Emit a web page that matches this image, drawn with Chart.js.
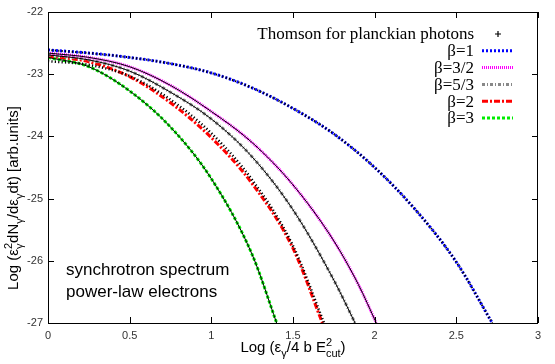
<!DOCTYPE html>
<html><head><meta charset="utf-8">
<script src="https://cdn.jsdelivr.net/npm/chart.js@4/dist/chart.umd.min.js"></script>
<style>html,body{margin:0;padding:0;background:#fff}#wrap{position:relative;width:555px;height:364px}</style>
</head><body><div id="wrap"><canvas id="c" width="555" height="364"></canvas></div>
<script>
// ---- data ----
const seriesLabels = ['β=1', 'β=3/2', 'β=5/3', 'β=2', 'β=3'];
const thomsonLabel = 'Thomson for planckian photons';
const xTickLabels = ['0', '0.5', '1', '1.5', '2', '2.5', '3'];
const yTickLabels = ['-22', '-23', '-24', '-25', '-26', '-27'];

const xBeta1 = [0, 0.25, 0.5, 0.75, 1.0, 1.25, 1.5, 1.75, 2.0, 2.25, 2.5, 2.72];
const yBeta1 = [-22.61, -22.66, -22.73, -22.83, -22.98, -23.22, -23.55, -23.96, -24.50, -25.18, -26.02, -27.0];

const xBeta32 = [0, 0.25, 0.5, 0.75, 1.0, 1.25, 1.5, 1.75, 1.9, 2.01];
const yBeta32 = [-22.66, -22.73, -22.88, -23.18, -23.60, -24.10, -24.78, -25.68, -26.38, -27.0];

const xBeta53 = [0, 0.25, 0.5, 0.75, 1.0, 1.25, 1.5, 1.75, 1.88];
const yBeta53 = [-22.69, -22.77, -22.95, -23.29, -23.72, -24.33, -25.18, -26.31, -27.0];

const xBeta2 = [0, 0.25, 0.5, 0.75, 1.0, 1.25, 1.5, 1.68];
const yBeta2 = [-22.71, -22.80, -23.04, -23.46, -24.02, -24.76, -25.80, -27.0];

const xBeta3 = [0, 0.25, 0.5, 0.75, 1.0, 1.25, 1.4];
const yBeta3 = [-22.73, -22.88, -23.27, -23.85, -24.68, -25.90, -27.0];

// Thomson (planckian photons) points overlaid on each curve
const xThom1 = xBeta1, yThom1 = yBeta1;
const xThom32 = xBeta32, yThom32 = yBeta32;
const xThom53 = xBeta53, yThom53 = yBeta53;
const xThom2 = [0, 0.25, 0.5, 0.75, 1.0, 1.25, 1.5, 1.69];
const yThom2 = [-22.79, -22.85, -23.03, -23.41, -23.95, -24.70, -25.76, -27.0];
const xThom3 = xBeta3, yThom3 = yBeta3;

const pts = (xs, ys) => xs.map((x, i) => ({x: x, y: ys[i]}));

const betaStyles = [
  {color: '#0000ff', dash: [2, 2]},
  {color: '#ff00ff', dash: [1, 1]},
  {color: '#888888', dash: [3, 2, 1, 2]},
  {color: '#ff0000', dash: [6, 2, 2, 2]},
  {color: '#00ee00', dash: [3, 2]}
];
const betaData = [pts(xBeta1, yBeta1), pts(xBeta32, yBeta32), pts(xBeta53, yBeta53), pts(xBeta2, yBeta2), pts(xBeta3, yBeta3)];
const thomData = [pts(xThom1, yThom1), pts(xThom32, yThom32), pts(xThom53, yThom53), pts(xThom2, yThom2), pts(xThom3, yThom3)];

const datasets = [];
thomData.forEach((d, i) => {
  const crossy = (i === 0 || i === 3);
  datasets.push({
    label: i === 0 ? thomsonLabel : '', data: d, isThomson: true, inLegend: i === 0,
    borderColor: '#000', borderWidth: crossy ? (i === 3 ? 2.6 : 2) : 1,
    borderDash: crossy ? [1.2, 2.2] : [],
    pointRadius: 0, order: 0, cubicInterpolationMode: 'monotone', fill: false
  });
});
betaData.forEach((d, i) => {
  datasets.push({
    label: seriesLabels[i], data: d, inLegend: true,
    borderColor: betaStyles[i].color, borderWidth: 3, borderDash: betaStyles[i].dash,
    pointRadius: 0, order: 1, cubicInterpolationMode: 'monotone', fill: false
  });
});

function drawRich(ctx, segs, x, y, size, align) {
  const small = Math.round(size * 0.72);
  const fam = '"Liberation Sans", Arial, sans-serif';
  let w = 0, lastSupX = 0;
  const items = [];
  segs.forEach(([t, k]) => {
    const fs = k === 'n' ? size : small;
    ctx.font = fs + 'px ' + fam;
    const tw = ctx.measureText(t).width;
    let sx = w, dy = 0;
    if (k === 'sup') { dy = -size * 0.42; lastSupX = w; w += tw; }
    else if (k === 'subStack') { sx = lastSupX; dy = size * 0.3; w = Math.max(w, lastSupX + tw); }
    else if (k === 'sub') { dy = size * 0.3; w += tw; }
    else { w += tw; }
    items.push({t, fs, sx, dy});
  });
  const x0 = align === 'center' ? x - w / 2 : x;
  ctx.textBaseline = 'alphabetic';
  ctx.textAlign = 'left';
  items.forEach(it => {
    ctx.font = it.fs + 'px ' + fam;
    ctx.fillText(it.t, x0 + it.sx, y + it.dy);
  });
}

const framePlugin = {
  id: 'frame',
  afterDatasetsDraw(chart) {
    const {ctx, chartArea: a, scales} = chart;
    ctx.save();
    ctx.strokeStyle = '#000';
    ctx.lineWidth = 1;
    ctx.setLineDash([]);
    ctx.strokeRect(a.left + 0.5, a.top + 0.5, a.right - a.left - 1, a.bottom - a.top);
    const tl = 6;
    ctx.beginPath();
    scales.x.ticks.forEach(t => {
      const px = Math.round(scales.x.getPixelForValue(t.value)) + 0.5;
      ctx.moveTo(px, a.bottom); ctx.lineTo(px, a.bottom - tl);
      ctx.moveTo(px, a.top); ctx.lineTo(px, a.top + tl);
    });
    scales.y.ticks.forEach(t => {
      const py = Math.round(scales.y.getPixelForValue(t.value)) + 0.5;
      ctx.moveTo(a.left, py); ctx.lineTo(a.left + tl, py);
      ctx.moveTo(a.right, py); ctx.lineTo(a.right - tl, py);
    });
    ctx.stroke();

    // legend
    const tx = 474, sx0 = 482, sx1 = 513;
    let row = 0;
    ctx.font = '17px "Liberation Serif", "Times New Roman", serif';
    ctx.textAlign = 'right';
    ctx.textBaseline = 'middle';
    chart.data.datasets.filter(d => d.inLegend).forEach(d => {
      const y = 34 + row * 16.8;
      ctx.fillStyle = '#000';
      ctx.fillText(d.label, tx, y + 1);
      if (d.isThomson) {
        ctx.beginPath();
        ctx.strokeStyle = '#000';
        ctx.lineWidth = 1.2;
        ctx.setLineDash([]);
        ctx.moveTo(498 - 3, y); ctx.lineTo(498 + 3, y);
        ctx.moveTo(498, y - 3); ctx.lineTo(498, y + 3);
        ctx.stroke();
      } else {
        ctx.beginPath();
        ctx.strokeStyle = d.borderColor;
        ctx.lineWidth = 3;
        ctx.setLineDash(d.borderDash);
        ctx.moveTo(sx0, y); ctx.lineTo(sx1, y);
        ctx.stroke();
        ctx.setLineDash([]);
      }
      row++;
    });

    // annotation text
    ctx.fillStyle = '#000';
    ctx.textAlign = 'left';
    ctx.textBaseline = 'alphabetic';
    ctx.font = '17px "Liberation Sans", Arial, sans-serif';
    ctx.fillText('synchrotron spectrum', 66, 275);
    ctx.fillText('power-law electrons', 66, 297);

    // x title
    drawRich(ctx, [['Log (ε', 'n'], ['γ', 'sub'], ['/4 b E', 'n'], ['2', 'sup'], ['cut', 'subStack'], [')', 'n']],
      (a.left + a.right) / 2, 352, 15, 'center');
    // y title
    ctx.save();
    ctx.translate(18, 198);
    ctx.rotate(-Math.PI / 2);
    drawRich(ctx, [['Log (ε', 'n'], ['2', 'sup'], ['γ', 'subStack'], ['dN', 'n'], ['γ', 'sub'], ['/dε', 'n'], ['γ', 'sub'], ['dt) [arb.units]', 'n']],
      0, 0, 15, 'center');
    ctx.restore();
    ctx.restore();
  }
};

new Chart(document.getElementById('c'), {
  type: 'line',
  data: {datasets},
  options: {
    responsive: false, animation: false, devicePixelRatio: 1,
    layout: {padding: {top: 12, right: 17, left: 0, bottom: 0}},
    plugins: {legend: {display: false}, tooltip: {enabled: false}},
    elements: {line: {tension: 0}},
    scales: {
      x: {
        type: 'linear', min: 0, max: 3,
        grid: {display: false, drawTicks: false}, border: {display: false},
        ticks: {stepSize: 0.5, padding: 6, maxRotation: 0, color: '#333',
          font: {family: '"Liberation Sans", Arial, sans-serif', size: 11},
          callback: (v, i) => xTickLabels[i]},
        afterFit: s => { s.height = 41; }
      },
      y: {
        type: 'linear', min: -27, max: -22,
        grid: {display: false, drawTicks: false}, border: {display: false},
        ticks: {stepSize: 1, padding: 5, color: '#333',
          font: {family: '"Liberation Sans", Arial, sans-serif', size: 11},
          callback: (v, i, all) => yTickLabels[all.length - 1 - i]},
        afterFit: s => { s.width = 48; }
      }
    }
  },
  plugins: [framePlugin]
});
</script></body></html>
